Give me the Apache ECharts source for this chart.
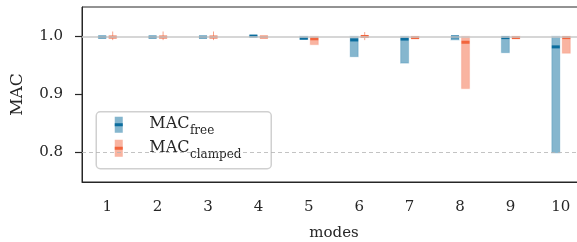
<!DOCTYPE html>
<html>
<head>
<meta charset="utf-8">
<script src="https://cdn.jsdelivr.net/npm/echarts@6/dist/echarts.min.js"></script>
<style>
  html, body { margin: 0; padding: 0; background: #fff; }
  #chart { width: 577px; height: 242px; }
</style>
</head>
<body>
<div id="chart"></div>
<script>
// modes on the x axis
const modes = ['1', '2', '3', '4', '5', '6', '7', '8', '9', '10'];

// MAC free: range + median
const freeMin = [0.998, 0.998, 0.998, 0.999, 0.995, 0.965, 0.954, 0.994, 0.972, 0.799];
const freeMax = [1.0, 1.0, 1.0, 1.001, 1.0, 1.0, 1.0, 1.0, 1.0, 1.0];
const freeMed = [0.999, 0.999, 0.999, 1.0007, 0.997, 0.994, 0.9955, 0.9993, 0.998, 0.982];

// MAC clamped: range + median
const clampedMin = [0.998, 0.998, 0.998, 0.998, 0.986, 0.999, 0.997, 0.910, 0.997, 0.971];
const clampedMax = [1.0, 1.0, 1.0, 1.0, 1.0, 1.0, 1.0, 1.0, 1.0, 1.0];
const clampedMed = [0.999, 0.999, 0.999, 0.999, 0.996, 1.0, 0.998, 0.990, 0.998, 0.998];
// thin vertical spikes on some clamped markers
const clampedSpikeLo = [0.9937, 0.9937, 0.9937, null, null, 0.9937, null, null, null, null];
const clampedSpikeHi = [1.0086, 1.0086, 1.0086, null, null, 1.0076, null, null, null, null];

const yTicks = [0.8, 0.9, 1.0];
const refLines = [1.0, 0.8];

const FONT = 'DejaVu Serif';
const BLUE = '#0b6d9e';
const BLUE_LIGHT = 'rgba(11,109,158,0.5)';
const ORANGE = '#f2653d';
const ORANGE_LIGHT = 'rgba(244,106,68,0.5)';

const chart = echarts.init(document.getElementById('chart'));

// measure text so subscripts sit right after "MAC"
const ctx = document.createElement('canvas').getContext('2d');
ctx.font = '16px "DejaVu Serif"';
const macW = ctx.measureText('MAC').width;

function rangeSeries(name, dark, light, offset, mins, maxs, meds) {
  return {
    type: 'custom',
    name: name,
    z: 3,
    data: modes.map((m, i) => [i, mins[i], maxs[i], meds[i]]),
    renderItem: function (params, api) {
      const cx = api.coord([api.value(0), 0])[0] + offset;
      const yLo = api.coord([api.value(0), api.value(1)])[1];
      const yHi = api.coord([api.value(0), api.value(2)])[1];
      const yMed = api.coord([api.value(0), api.value(3)])[1];
      const w = 8;
      return {
        type: 'group',
        children: [
          {
            type: 'rect',
            shape: { x: cx - w / 2, y: yHi, width: w, height: Math.max(yLo - yHi, 1) },
            style: { fill: light, stroke: light, lineWidth: 1.2, strokeOpacity: 0.4 }
          },
          {
            type: 'rect',
            shape: { x: cx - w / 2, y: yMed - 1.5, width: w, height: 3 },
            style: { fill: dark }
          }
        ]
      };
    }
  };
}

const spikeData = [];
modes.forEach((m, i) => {
  if (clampedSpikeLo[i] != null) spikeData.push([i, clampedSpikeLo[i], clampedSpikeHi[i]]);
});

chart.setOption({
  animation: false,
  grid: {
    left: 82, top: 7, width: 504, height: 175,
    containLabel: false,
    outerBoundsMode: 'none',
    show: true, borderColor: '#262626', borderWidth: 1, backgroundColor: 'transparent'
  },
  xAxis: {
    type: 'category',
    data: modes,
    name: 'modes',
    nameLocation: 'middle',
    nameGap: 44,
    nameTextStyle: { fontFamily: FONT, fontSize: 15, color: '#262626' },
    axisLine: { lineStyle: { color: '#262626', width: 1 } },
    axisTick: { alignWithLabel: true, length: 7, lineStyle: { color: '#262626', width: 1.2 } },
    axisLabel: { fontFamily: FONT, fontSize: 15, color: '#262626', margin: 18 },
    splitLine: { show: false }
  },
  yAxis: {
    type: 'value',
    min: 0.7486,
    max: 1.0509,
    name: 'MAC',
    nameLocation: 'middle',
    nameGap: 56,
    nameRotate: 90,
    nameTextStyle: { fontFamily: FONT, fontSize: 17, color: '#262626' },
    axisLine: { show: true, lineStyle: { color: '#262626', width: 1 } },
    axisTick: { show: true, length: 7, customValues: yTicks, lineStyle: { color: '#262626', width: 1.2 } },
    axisLabel: {
      fontFamily: FONT, fontSize: 15, color: '#262626', margin: 19,
      customValues: yTicks,
      formatter: v => v.toFixed(1)
    },
    splitLine: { show: false }
  },
  series: [
    {
      type: 'line',
      data: [],
      z: 1,
      markLine: {
        silent: true,
        symbol: 'none',
        label: { show: false },
        data: [
          { yAxis: refLines[0], lineStyle: { color: '#c8c8c8', width: 1.5, type: 'solid' } },
          { yAxis: refLines[1], lineStyle: { color: '#b4b4b4', width: 0.8, type: [4, 3] } }
        ]
      }
    },
    rangeSeries('MAC free', BLUE, BLUE_LIGHT, -5, freeMin, freeMax, freeMed),
    rangeSeries('MAC clamped', ORANGE, ORANGE_LIGHT, 5.5, clampedMin, clampedMax, clampedMed),
    {
      type: 'custom',
      name: 'spikes',
      z: 4,
      data: spikeData,
      renderItem: function (params, api) {
        const cx = api.coord([api.value(0), 0])[0] + 5.5;
        const y1 = api.coord([api.value(0), api.value(1)])[1];
        const y2 = api.coord([api.value(0), api.value(2)])[1];
        return {
          type: 'line',
          shape: { x1: cx, y1: y1, x2: cx, y2: y2 },
          style: { stroke: ORANGE, lineWidth: 1, opacity: 0.6 }
        };
      }
    }
  ],
  graphic: [
    {
      type: 'group',
      left: 95.5, top: 111,
      z: 10,
      children: [
        {
          type: 'rect',
          shape: { x: 0, y: 0, width: 175, height: 57, r: 4 },
          style: { fill: 'rgba(255,255,255,0.8)', stroke: '#d0d0d0', lineWidth: 1.5 }
        },
        { type: 'rect', shape: { x: 18.5, y: 5, width: 8, height: 16 }, style: { fill: BLUE_LIGHT } },
        { type: 'rect', shape: { x: 18.5, y: 11.5, width: 8, height: 3 }, style: { fill: BLUE } },
        { type: 'rect', shape: { x: 18.5, y: 28, width: 8, height: 17 }, style: { fill: ORANGE_LIGHT } },
        { type: 'rect', shape: { x: 18.5, y: 35, width: 8, height: 3 }, style: { fill: ORANGE } },
        { type: 'text', x: 53, y: 12, style: { text: 'MAC', font: '16px "DejaVu Serif"', fill: '#262626', verticalAlign: 'middle' } },
        { type: 'text', x: 53 + macW + 0.5, y: 19, style: { text: 'free', font: '12px "DejaVu Serif"', fill: '#262626', verticalAlign: 'middle' } },
        { type: 'text', x: 53, y: 36.5, style: { text: 'MAC', font: '16px "DejaVu Serif"', fill: '#262626', verticalAlign: 'middle' } },
        { type: 'text', x: 53 + macW + 0.5, y: 43.5, style: { text: 'clamped', font: '12px "DejaVu Serif"', fill: '#262626', verticalAlign: 'middle' } }
      ]
    }
  ]
});
</script>
</body>
</html>
